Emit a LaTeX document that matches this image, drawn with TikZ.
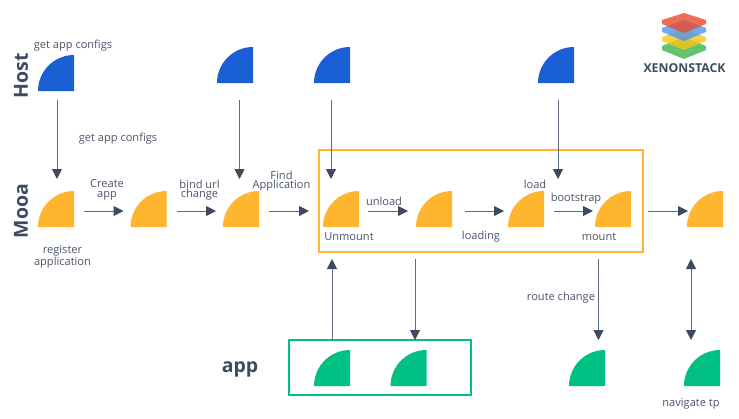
\documentclass[tikz,border=0pt]{standalone}
\usepackage{fontspec}
\setmainfont{Open Sans}
\usetikzlibrary{arrows.meta}
\definecolor{hostblue}{HTML}{1A5FD4}
\definecolor{mooayellow}{HTML}{FFB52E}
\definecolor{appgreen}{HTML}{00C084}
\definecolor{linegray}{HTML}{5F6A7E}
\definecolor{headgray}{HTML}{3D4A5F}
\definecolor{textgray}{HTML}{4A5568}
\definecolor{logored}{HTML}{EA4A2C}
\definecolor{logoblue}{HTML}{4D94F2}
\definecolor{logoyellow}{HTML}{F9C518}
\definecolor{logogreen}{HTML}{3DB54A}
\begin{document}
\begin{tikzpicture}[x=0.75pt,y=-0.75pt,
    quarter/.style={minimum size=27pt,inner sep=0pt,outer sep=0pt,
        path picture={\fill[#1] (path picture bounding box.south east) -- (path picture bounding box.north east) arc (90:180:27pt) -- cycle;}},
    flow/.style={draw=linegray,line width=0.75pt,-{Triangle[length=7.5pt,width=7.5pt,color=headgray]}},
    twoway/.style={draw=linegray,line width=0.75pt,{Triangle[length=7.5pt,width=7.5pt,color=headgray]}-{Triangle[length=7.5pt,width=7.5pt,color=headgray]}},
    lbl/.style={text=textgray,inner sep=0pt,align=center,yshift=-1.1pt,font=\fontsize{8.3}{7.2}\selectfont},
    lane/.style={text=headgray,inner sep=0pt,font=\fontsize{14.6}{15}\bfseries\selectfont},
    groupbox/.style={draw=#1,line width=1.5pt,fill=none,inner sep=0pt,outer sep=0pt},
    slab/.style={fill=#1,fill opacity=0.8,draw=none}]
\useasboundingbox (0,0) rectangle (739,418);

% host row
\node[quarter=hostblue] (h1) at (56,73) {};
\node[quarter=hostblue] (h2) at (235,65) {};
\node[quarter=hostblue] (h3) at (332,65) {};
\node[quarter=hostblue] (h4) at (556,65) {};

% mooa row
\node[quarter=mooayellow] (y1) at (56,209) {};
\node[quarter=mooayellow] (y2) at (148.5,209) {};
\node[quarter=mooayellow] (y3) at (241,209) {};
\node[quarter=mooayellow] (y4) at (341,209) {};
\node[quarter=mooayellow] (y5) at (434,209) {};
\node[quarter=mooayellow] (y6) at (526,209) {};
\node[quarter=mooayellow] (y7) at (613,209) {};
\node[quarter=mooayellow] (y8) at (705,209) {};

% app row
\node[quarter=appgreen] (g1) at (332,368) {};
\node[quarter=appgreen] (g2) at (408.5,368) {};
\node[quarter=appgreen] (g3) at (587,368) {};
\node[quarter=appgreen] (g4) at (702,368) {};

\node[groupbox=mooayellow,minimum width=243pt,minimum height=76.5pt] (mooabox) at (481,201) {};
\node[groupbox=appgreen,minimum width=136.5pt,minimum height=41.25pt] (appbox) at (380,367.5) {};

\coordinate (d2) at (239.5,100);
\coordinate (d3) at (331,100);
\coordinate (d4) at (558,100);
\coordinate (u2) at (415,259);
\coordinate (u3) at (598.5,259);
\coordinate (u4) at (691,259);
\coordinate (e2) at (239.5,179);
\coordinate (e3) at (331,179);
\coordinate (e4) at (558,179);
\coordinate (f2) at (415,340);
\coordinate (f3) at (598.5,340);
\coordinate (f4) at (691,340);

\draw[flow,shorten <=6.75pt,shorten >=9pt] (h1) ++(1,18) coordinate (s1) -- (s1 |- y1.north);
\draw[flow] (d2) -- (e2);
\draw[flow] (d3) -- (e3);
\draw[flow] (d4) -- (e4);

\foreach \a/\b/\s/\e in {y1/y2/7.5/5.25,y2/y3/7.5/5.25,y3/y4/7.5/10.5,y4/y5/6.75/6,y5/y6/9.75/3,y6/y7/7.5/1.5,y7/y8/12.75/-0.75}
    \draw[flow,shorten <=\s pt,shorten >=\e pt] ([yshift=-1.5pt]\a.east) -- ([yshift=-1.5pt]\b.west);

\draw[flow,shorten >=5.25pt] (g1 |- appbox.north) -- (g1 |- mooabox.south);
\draw[flow] (u2) -- (f2);
\draw[flow] (u3) -- (f3);
\draw[twoway] (u4) -- (f4);

% labels
\node[lane,rotate=90] (hostlane) at (21,76) {Host};
\node[lane,rotate=90] (mooalane) at (21,211) {Mooa};
\node[lane] (applane) at (240,369) {app};

\node[lbl] (t1) at (73,44) {get app configs};
\node[lbl] (t2) at (118,137) {get app configs};
\node[lbl] (t3) at (107,188.5) {Create\\app};
\node[lbl] (t4) at (199.5,188.5) {bind url\\change};
\node[lbl] (t5) at (281.5,179.5) {Find\\Application};
\node[lbl] (t6) at (62.5,255.5) {register\\application};
\node[lbl] (t7) at (349,235) {Unmount};
\node[lbl] (t8) at (384,199.5) {unload};
\node[lbl] (t9) at (481,235) {loading};
\node[lbl] (t10) at (535,183) {load};
\node[lbl] (t11) at (576,197) {bootstrap};
\node[lbl] (t12) at (599,235) {mount};
\node[lbl] (t13) at (561,296) {route change};
\node[lbl] (t14) at (691,402) {navigate tp};

% logo
\fill[slab=logogreen] (684,37) -- (706,46) -- (706,50) -- (684,59) -- (662,50) -- (662,46) -- cycle;
\fill[slab=logoyellow] (684,29) -- (706,37) -- (706,41) -- (684,50) -- (662,41) -- (662,37) -- cycle;
\fill[slab=logoblue] (684,20) -- (706,28) -- (706,32) -- (684,41) -- (662,32) -- (662,28) -- cycle;
\fill[slab=logored] (684,13) -- (706,20) -- (706,24) -- (684,33) -- (662,24) -- (662,20) -- cycle;
\node[text=headgray,inner sep=0pt,font=\fontsize{9.2}{9}\bfseries\selectfont] (brand) at (684.5,68) {XENONSTACK};

\end{tikzpicture}
\end{document}
